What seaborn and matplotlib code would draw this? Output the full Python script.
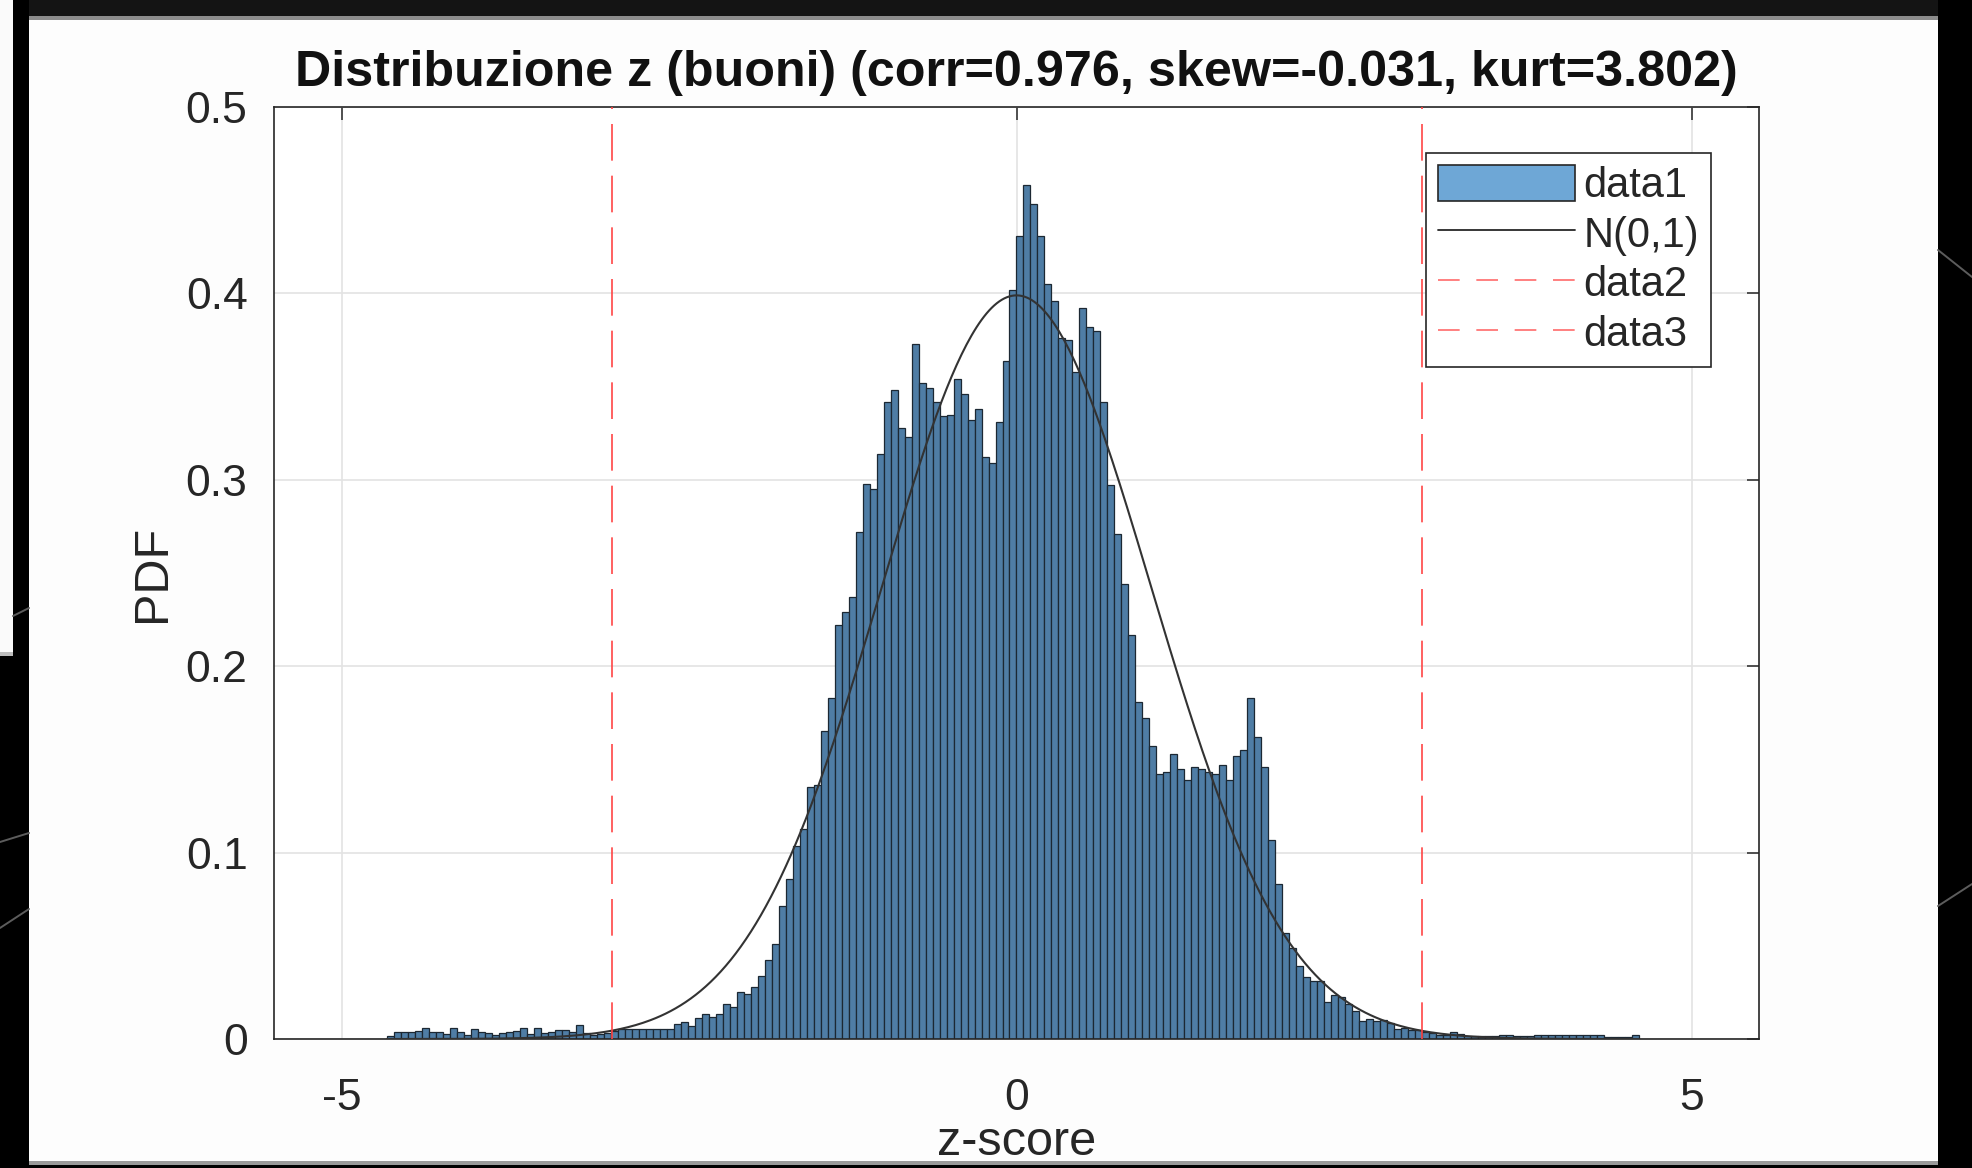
import numpy as np
import pandas as pd
import matplotlib
matplotlib.use("Agg")
import matplotlib.pyplot as plt
from matplotlib.patches import Rectangle, Patch
from matplotlib.lines import Line2D
import seaborn as sns

# ---------------------------------------------------------------------------
# Histogram of z-scores (PDF normalisation), equal-width bins
# ---------------------------------------------------------------------------
bin_lo = -4.662
bin_hi = 4.610

pdf_left_tail = [0.0018, 0.0039, 0.0039, 0.0039, 0.0045, 0.0057, 0.0039, 0.0036,
                 0.0027, 0.0057, 0.0036, 0.0021, 0.0054, 0.0039, 0.0032, 0.0021,
                 0.0032, 0.0039, 0.0045, 0.0057, 0.0027, 0.0057, 0.0032, 0.0039,
                 0.0050, 0.0050, 0.0039, 0.0075, 0.0032, 0.0021, 0.0027, 0.0032,
                 0.0045]
pdf_left_rise = [0.0054, 0.0052, 0.0054, 0.0055, 0.0054, 0.0053, 0.0054, 0.0054,
                 0.0080, 0.0093, 0.0071, 0.0110, 0.0134, 0.0116, 0.0134, 0.0188,
                 0.0170, 0.0254, 0.0240, 0.0277, 0.0336, 0.0425, 0.0509, 0.0714,
                 0.0857, 0.1036, 0.1125, 0.1350, 0.1360]
pdf_left_core = [0.165, 0.183, 0.222, 0.229, 0.237, 0.272, 0.298, 0.295, 0.314,
                 0.342, 0.348, 0.328, 0.323, 0.373, 0.352, 0.349, 0.342, 0.334,
                 0.335, 0.354, 0.346, 0.332, 0.338, 0.312, 0.309, 0.331, 0.364,
                 0.402]
pdf_right_core = [0.431, 0.458, 0.448, 0.431, 0.405, 0.396, 0.376, 0.375, 0.358,
                  0.392, 0.382, 0.380, 0.342, 0.297, 0.271, 0.244, 0.217, 0.181,
                  0.172, 0.157, 0.142, 0.143, 0.153, 0.145, 0.139, 0.146, 0.145,
                  0.143, 0.142, 0.147, 0.139, 0.152, 0.155, 0.183, 0.162, 0.146,
                  0.107, 0.083, 0.057, 0.049, 0.039, 0.0335, 0.031, 0.031, 0.020,
                  0.0236, 0.0225, 0.019, 0.015, 0.0094, 0.0105, 0.0094, 0.010,
                  0.0086, 0.0052, 0.006, 0.0047, 0.0047]
pdf_right_tail = [0.0036, 0.0032, 0.0023, 0.0023, 0.0036, 0.0025, 0.0018, 0.0018,
                  0.0018, 0.0016, 0.0018, 0.0023, 0.0023, 0.0018, 0.0014, 0.0014,
                  0.0023, 0.0023, 0.0020, 0.0023, 0.0023, 0.0020, 0.0023, 0.0023,
                  0.0020, 0.0023, 0.0010, 0.0010, 0.0012, 0.0010, 0.0023]

# outlier thresholds (dashed lines)
threshold_lo = -3.0
threshold_hi = 3.0

x_ticks = [-5, 0, 5]
x_tick_labels = ["-5", "0", "5"]
y_ticks = [0, 0.1, 0.2, 0.3, 0.4, 0.5]
y_tick_labels = ["0", "0.1", "0.2", "0.3", "0.4", "0.5"]
legend_labels = ["data1", "N(0,1)", "data2", "data3"]
title_text = "Distribuzione z (buoni) (corr=0.976, skew=-0.031, kurt=3.802)"

# ---------------------------------------------------------------------------
heights = np.array(pdf_left_tail + pdf_left_rise + pdf_left_core
                   + pdf_right_core + pdf_right_tail)
edges = np.linspace(bin_lo, bin_hi, len(heights) + 1)
centers = 0.5 * (edges[:-1] + edges[1:])
hist_df = pd.DataFrame({"z": centers, "pdf": heights})

z_grid = np.linspace(bin_lo, bin_hi, 500)
normal_df = pd.DataFrame({"z": z_grid,
                          "pdf": np.exp(-0.5 * z_grid ** 2) / np.sqrt(2 * np.pi)})

sns.set_style("white")
plt.rcParams["font.family"] = ["Liberation Sans", "DejaVu Sans"]

W, H = 1972, 1168
fig = plt.figure(figsize=(W / 100, H / 100), dpi=100)
fig.patch.set_facecolor("black")


def px_rect(x0, y0, x1, y1, color):
    fig.add_artist(Rectangle((x0 / W, 1 - y1 / H), (x1 - x0) / W, (y1 - y0) / H,
                             transform=fig.transFigure, facecolor=color,
                             edgecolor="none", zorder=-10))


def px_line(x0, y0, x1, y1, color="#5c5c5c", lw=1.4):
    fig.add_artist(Line2D([x0 / W, x1 / W], [1 - y0 / H, 1 - y1 / H],
                          transform=fig.transFigure, color=color, lw=lw,
                          zorder=-9))


# window frame around the figure
px_rect(29, 0, 1938, 16, "#141414")
px_rect(29, 16, 1938, 20, "#8c8c8c")
px_rect(29, 20, 1938, 1161, "#fdfdfd")
px_rect(29, 1161, 1938, 1165, "#9a9a9a")
px_rect(0, 0, 13, 652, "#fafafa")
px_rect(0, 652, 13, 656, "#bdbdbd")
px_line(13, 616, 29, 608)
px_line(0, 842, 29, 833)
px_line(0, 928, 29, 909)
px_line(1938, 250, 1972, 277)
px_line(1938, 906, 1972, 884)

ax = fig.add_axes([274 / W, 1 - 1039 / H, (1759 - 274) / W, (1039 - 107) / H])
ax.set_facecolor("white")

bar_face = "#4f7da5"
bar_edge = "#1c2833"
sns.histplot(data=hist_df, x="z", weights="pdf", bins=list(edges), stat="count",
             element="bars", fill=True, color=bar_face, edgecolor=bar_edge,
             linewidth=0.9, alpha=1.0, ax=ax, zorder=2)
sns.lineplot(data=normal_df, x="z", y="pdf", color="#333333", lw=1.5,
             ax=ax, zorder=3)

dash_style = (0, (22, 9))
for xv in (threshold_lo, threshold_hi):
    ax.axvline(xv, color="#ff4545", lw=1.2, linestyle=dash_style, zorder=4)

ax.set_xlim(-5.5, 5.5)
ax.set_ylim(0, 0.5)
ax.set_xticks(x_ticks)
ax.set_xticklabels(x_tick_labels)
ax.set_yticks(y_ticks)
ax.set_yticklabels(y_tick_labels)

ax.grid(True, color="#e3e3e3", lw=1.2)
ax.set_axisbelow(True)
for side in ("left", "right", "top", "bottom"):
    ax.spines[side].set_visible(True)
    ax.spines[side].set_color("#262626")
    ax.spines[side].set_linewidth(1.2)

ax.tick_params(axis="both", direction="in", length=9, width=1.1,
               top=True, right=True, colors="#262626", labelsize=32)
ax.tick_params(axis="x", pad=28)
ax.tick_params(axis="y", pad=19)

ax.set_xlabel("z-score", fontsize=35, color="#262626", labelpad=1)
ax.set_ylabel("PDF", fontsize=35, color="#262626", labelpad=8)
ax.set_title(title_text, fontsize=36.2, fontweight="bold", color="#111111", pad=15)

legend_dash = (0, (13, 10))
handles = [
    Patch(facecolor="#6ea7d6", edgecolor="#262626", lw=1.2),
    Line2D([], [], color="#262626", lw=1.3),
    Line2D([], [], color="#ff6b6b", lw=1.2, linestyle=legend_dash),
    Line2D([], [], color="#ff6b6b", lw=1.2, linestyle=legend_dash),
]
leg = ax.legend(handles, legend_labels, loc="upper left",
                bbox_to_anchor=(0.7758, 0.9506), borderaxespad=0,
                fontsize=30, frameon=True, fancybox=False, framealpha=1,
                edgecolor="#262626", handlelength=3.3, handleheight=0.95,
                handletextpad=0.2, labelspacing=0.2, borderpad=0.28)
leg.get_frame().set_linewidth(1.2)
for t in leg.get_texts():
    t.set_color("#262626")

fig.savefig("out.png", dpi=100, facecolor="black")
